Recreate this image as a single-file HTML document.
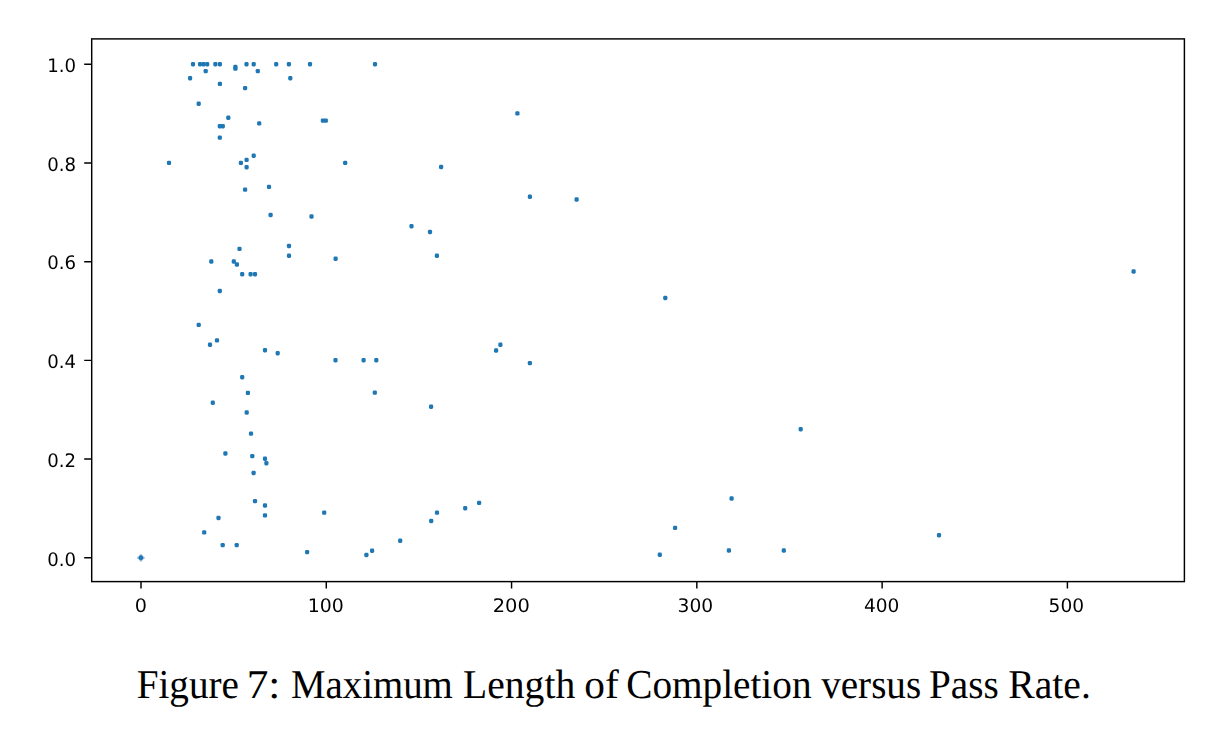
<!DOCTYPE html>
<html><head><meta charset="utf-8"><title>Figure 7</title>
<style>
html,body{margin:0;padding:0;background:#fff;}
body{width:1226px;height:734px;overflow:hidden;position:relative;}
svg{position:absolute;left:0;top:0;}
.plot{will-change:transform;}
.capsvg{top:640px;}
.t{text-rendering:geometricPrecision;font-family:"DejaVu Sans","Liberation Sans",sans-serif;font-size:18.7px;fill:#000;}
</style></head>
<body>
<svg class="plot" width="1226" height="734" viewBox="0 0 1226 734">
<rect x="91.7" y="38.9" width="1092.70" height="542.70" fill="none" stroke="#000" stroke-width="1.45" stroke-linejoin="miter"/>
<path d="M141.00 581.60V588.50M326.28 581.60V588.50M511.56 581.60V588.50M696.84 581.60V588.50M882.12 581.60V588.50M1067.40 581.60V588.50M91.70 557.75H84.20M91.70 459.06H84.20M91.70 360.37H84.20M91.70 261.68H84.20M91.70 162.99H84.20M91.70 64.30H84.20" stroke="#000" stroke-width="1.45" fill="none"/>
<text transform="translate(140.94 612) scale(1.0254 1)" text-anchor="middle" class="t">0</text>
<text transform="translate(325.79 612) scale(1.0104 1)" text-anchor="middle" class="t">100</text>
<text transform="translate(511.21 612) scale(1.0399 1)" text-anchor="middle" class="t">200</text>
<text transform="translate(695.40 612) scale(0.9974 1)" text-anchor="middle" class="t">300</text>
<text transform="translate(881.62 612) scale(0.9912 1)" text-anchor="middle" class="t">400</text>
<text transform="translate(1066.30 612) scale(0.9941 1)" text-anchor="middle" class="t">500</text>
<text transform="translate(76.1 566) scale(0.97 1)" text-anchor="end" class="t">0.0</text>
<text transform="translate(76.1 467) scale(0.97 1)" text-anchor="end" class="t">0.2</text>
<text transform="translate(76.1 368) scale(0.97 1)" text-anchor="end" class="t">0.4</text>
<text transform="translate(76.1 269) scale(0.97 1)" text-anchor="end" class="t">0.6</text>
<text transform="translate(76.1 171) scale(0.97 1)" text-anchor="end" class="t">0.8</text>
<text transform="translate(76.1 72) scale(0.97 1)" text-anchor="end" class="t">1.0</text>
<g fill="#1f77b4"><rect x="190.90" y="62.00" width="4.2" height="4.4" rx="1.4"/><rect x="197.90" y="62.00" width="4.2" height="4.4" rx="1.4"/><rect x="201.40" y="62.00" width="4.2" height="4.4" rx="1.4"/><rect x="205.10" y="62.00" width="4.2" height="4.4" rx="1.4"/><rect x="213.30" y="62.00" width="4.2" height="4.4" rx="1.4"/><rect x="217.80" y="62.00" width="4.2" height="4.4" rx="1.4"/><rect x="244.40" y="62.00" width="4.2" height="4.4" rx="1.4"/><rect x="251.60" y="62.00" width="4.2" height="4.4" rx="1.4"/><rect x="274.10" y="62.00" width="4.2" height="4.4" rx="1.4"/><rect x="286.80" y="62.00" width="4.2" height="4.4" rx="1.4"/><rect x="307.90" y="62.00" width="4.2" height="4.4" rx="1.4"/><rect x="372.90" y="62.00" width="4.2" height="4.4" rx="1.4"/><rect x="233.30" y="64.70" width="4.2" height="4.4" rx="1.4"/><rect x="233.30" y="66.40" width="4.2" height="4.4" rx="1.4"/><rect x="203.60" y="68.90" width="4.2" height="4.4" rx="1.4"/><rect x="255.70" y="68.90" width="4.2" height="4.4" rx="1.4"/><rect x="188.00" y="76.10" width="4.2" height="4.4" rx="1.4"/><rect x="288.20" y="76.10" width="4.2" height="4.4" rx="1.4"/><rect x="217.80" y="81.70" width="4.2" height="4.4" rx="1.4"/><rect x="243.00" y="85.90" width="4.2" height="4.4" rx="1.4"/><rect x="196.60" y="101.50" width="4.2" height="4.4" rx="1.4"/><rect x="515.30" y="111.20" width="4.2" height="4.4" rx="1.4"/><rect x="226.20" y="115.60" width="4.2" height="4.4" rx="1.4"/><rect x="320.80" y="118.40" width="4.2" height="4.4" rx="1.4"/><rect x="323.70" y="118.40" width="4.2" height="4.4" rx="1.4"/><rect x="257.10" y="121.20" width="4.2" height="4.4" rx="1.4"/><rect x="217.70" y="124.00" width="4.2" height="4.4" rx="1.4"/><rect x="220.70" y="124.00" width="4.2" height="4.4" rx="1.4"/><rect x="217.70" y="135.40" width="4.2" height="4.4" rx="1.4"/><rect x="251.60" y="153.60" width="4.2" height="4.4" rx="1.4"/><rect x="244.50" y="157.70" width="4.2" height="4.4" rx="1.4"/><rect x="166.90" y="160.70" width="4.2" height="4.4" rx="1.4"/><rect x="238.80" y="160.70" width="4.2" height="4.4" rx="1.4"/><rect x="343.10" y="160.70" width="4.2" height="4.4" rx="1.4"/><rect x="244.50" y="165.00" width="4.2" height="4.4" rx="1.4"/><rect x="439.00" y="164.80" width="4.2" height="4.4" rx="1.4"/><rect x="266.90" y="184.70" width="4.2" height="4.4" rx="1.4"/><rect x="243.00" y="187.40" width="4.2" height="4.4" rx="1.4"/><rect x="527.80" y="194.50" width="4.2" height="4.4" rx="1.4"/><rect x="574.50" y="197.30" width="4.2" height="4.4" rx="1.4"/><rect x="268.50" y="212.80" width="4.2" height="4.4" rx="1.4"/><rect x="309.40" y="214.30" width="4.2" height="4.4" rx="1.4"/><rect x="409.40" y="224.00" width="4.2" height="4.4" rx="1.4"/><rect x="427.90" y="229.80" width="4.2" height="4.4" rx="1.4"/><rect x="286.90" y="243.80" width="4.2" height="4.4" rx="1.4"/><rect x="237.40" y="246.70" width="4.2" height="4.4" rx="1.4"/><rect x="286.90" y="253.60" width="4.2" height="4.4" rx="1.4"/><rect x="434.80" y="253.60" width="4.2" height="4.4" rx="1.4"/><rect x="333.50" y="256.60" width="4.2" height="4.4" rx="1.4"/><rect x="209.20" y="259.30" width="4.2" height="4.4" rx="1.4"/><rect x="231.70" y="259.30" width="4.2" height="4.4" rx="1.4"/><rect x="234.80" y="262.30" width="4.2" height="4.4" rx="1.4"/><rect x="240.10" y="272.10" width="4.2" height="4.4" rx="1.4"/><rect x="248.50" y="272.10" width="4.2" height="4.4" rx="1.4"/><rect x="252.90" y="272.10" width="4.2" height="4.4" rx="1.4"/><rect x="217.70" y="288.80" width="4.2" height="4.4" rx="1.4"/><rect x="663.20" y="295.80" width="4.2" height="4.4" rx="1.4"/><rect x="196.60" y="322.70" width="4.2" height="4.4" rx="1.4"/><rect x="214.90" y="338.20" width="4.2" height="4.4" rx="1.4"/><rect x="207.90" y="342.60" width="4.2" height="4.4" rx="1.4"/><rect x="498.30" y="342.60" width="4.2" height="4.4" rx="1.4"/><rect x="494.00" y="348.30" width="4.2" height="4.4" rx="1.4"/><rect x="262.90" y="348.10" width="4.2" height="4.4" rx="1.4"/><rect x="275.60" y="351.10" width="4.2" height="4.4" rx="1.4"/><rect x="333.40" y="358.10" width="4.2" height="4.4" rx="1.4"/><rect x="361.50" y="358.10" width="4.2" height="4.4" rx="1.4"/><rect x="374.20" y="358.10" width="4.2" height="4.4" rx="1.4"/><rect x="527.80" y="360.90" width="4.2" height="4.4" rx="1.4"/><rect x="240.10" y="375.10" width="4.2" height="4.4" rx="1.4"/><rect x="372.70" y="390.40" width="4.2" height="4.4" rx="1.4"/><rect x="245.80" y="390.70" width="4.2" height="4.4" rx="1.4"/><rect x="210.70" y="400.50" width="4.2" height="4.4" rx="1.4"/><rect x="429.00" y="404.50" width="4.2" height="4.4" rx="1.4"/><rect x="244.60" y="410.30" width="4.2" height="4.4" rx="1.4"/><rect x="798.60" y="427.00" width="4.2" height="4.4" rx="1.4"/><rect x="248.90" y="431.40" width="4.2" height="4.4" rx="1.4"/><rect x="223.30" y="451.30" width="4.2" height="4.4" rx="1.4"/><rect x="250.20" y="453.90" width="4.2" height="4.4" rx="1.4"/><rect x="262.90" y="456.60" width="4.2" height="4.4" rx="1.4"/><rect x="264.30" y="461.00" width="4.2" height="4.4" rx="1.4"/><rect x="251.50" y="470.80" width="4.2" height="4.4" rx="1.4"/><rect x="729.50" y="496.30" width="4.2" height="4.4" rx="1.4"/><rect x="252.90" y="498.90" width="4.2" height="4.4" rx="1.4"/><rect x="477.00" y="500.70" width="4.2" height="4.4" rx="1.4"/><rect x="262.90" y="503.30" width="4.2" height="4.4" rx="1.4"/><rect x="463.10" y="506.10" width="4.2" height="4.4" rx="1.4"/><rect x="322.10" y="510.40" width="4.2" height="4.4" rx="1.4"/><rect x="434.90" y="510.40" width="4.2" height="4.4" rx="1.4"/><rect x="262.90" y="513.20" width="4.2" height="4.4" rx="1.4"/><rect x="216.40" y="515.80" width="4.2" height="4.4" rx="1.4"/><rect x="429.10" y="518.80" width="4.2" height="4.4" rx="1.4"/><rect x="673.00" y="525.70" width="4.2" height="4.4" rx="1.4"/><rect x="202.10" y="530.20" width="4.2" height="4.4" rx="1.4"/><rect x="936.90" y="533.10" width="4.2" height="4.4" rx="1.4"/><rect x="398.10" y="538.50" width="4.2" height="4.4" rx="1.4"/><rect x="220.60" y="542.90" width="4.2" height="4.4" rx="1.4"/><rect x="234.60" y="542.90" width="4.2" height="4.4" rx="1.4"/><rect x="726.80" y="548.30" width="4.2" height="4.4" rx="1.4"/><rect x="781.70" y="548.30" width="4.2" height="4.4" rx="1.4"/><rect x="370.00" y="548.50" width="4.2" height="4.4" rx="1.4"/><rect x="305.00" y="549.90" width="4.2" height="4.4" rx="1.4"/><rect x="364.30" y="552.80" width="4.2" height="4.4" rx="1.4"/><rect x="657.70" y="552.60" width="4.2" height="4.4" rx="1.4"/><rect x="138.80" y="555.60" width="4.2" height="4.4" rx="1.4"/><rect x="1131.50" y="269.30" width="4.2" height="4.4" rx="1.4"/><g opacity="0.55"><rect x="137.2" y="556.6" width="7.4" height="2.7" rx="1.2"/><rect x="139.55" y="554.2" width="2.7" height="7.2" rx="1.2"/></g></g>
</svg>
<svg class="capsvg" width="1226" height="94" viewBox="0 640 1226 94">
<rect x="0" y="640" width="1226" height="94" fill="#fff"/>
<g font-family="'Liberation Serif','Times New Roman',serif" font-size="41.0" fill="#000" text-rendering="geometricPrecision">
<text transform="translate(136.66 698.0) scale(0.9550 1)">Figure</text>
<text transform="translate(246.63 698.0) scale(1.0569 1)">7:</text>
<text transform="translate(291.00 698.0) scale(0.9473 1)">Maximum</text>
<text transform="translate(463.08 698.0) scale(0.9651 1)">Length</text>
<text transform="translate(584.31 698.0) scale(1.0086 1)">of</text>
<text transform="translate(626.27 698.0) scale(0.9567 1)">Completion</text>
<text transform="translate(821.18 698.0) scale(0.9544 1)">versus</text>
<text transform="translate(928.96 698.0) scale(0.9564 1)">Pass</text>
<text transform="translate(1008.35 698.0) scale(0.9658 1)">Rate.</text>
</g>
</svg>
</body></html>
